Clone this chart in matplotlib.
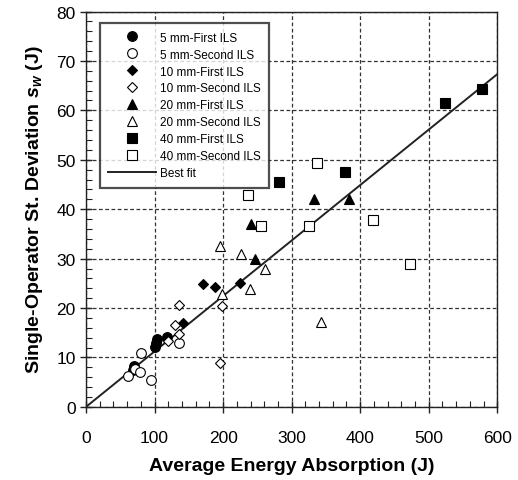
import numpy as np
import matplotlib
matplotlib.use('Agg')
import matplotlib.pyplot as plt
from matplotlib.ticker import MultipleLocator

plt.rcParams['font.family'] = ['Liberation Sans', 'DejaVu Sans']
plt.rcParams['mathtext.fontset'] = 'custom'
plt.rcParams['mathtext.it'] = 'Liberation Sans:italic:bold'
plt.rcParams['mathtext.rm'] = 'Liberation Sans:bold'

# data (energy J, s_w J)
x5_1 = [68, 70, 100, 102, 104, 118]
y5_1 = [7.5, 8.2, 12.2, 12.9, 13.8, 14.2]
x5_2 = [61, 72, 79, 80, 95, 135]
y5_2 = [6.3, 7.6, 7.0, 11.0, 5.5, 13.0]
x10_1 = [141, 170, 188, 225]
y10_1 = [17.0, 24.8, 24.2, 25.0]
x10_2 = [120, 130, 136, 136, 199, 196]
y10_2 = [13.3, 16.5, 14.7, 20.6, 20.4, 8.9]
x20_1 = [240, 247, 332, 383]
y20_1 = [37.0, 30.0, 42.0, 42.0]
x20_2 = [195, 226, 261, 239, 199, 343]
y20_2 = [32.5, 31.0, 28.0, 23.8, 22.9, 17.2]
x40_1 = [282, 378, 524, 578]
y40_1 = [45.6, 47.5, 61.5, 64.4]
x40_2 = [236, 255, 337, 325, 419, 473]
y40_2 = [42.8, 36.6, 49.3, 36.5, 37.9, 28.9]
fit_slope = 0.1122

fig = plt.figure(figsize=(5.18, 4.81), dpi=100)
ax = fig.add_axes([0.166, 0.152, 0.794, 0.822])

ms = 7
ax.plot(x5_1, y5_1, 'o', ms=ms, mfc='black', mec='black', mew=0.8, label='5 mm-First ILS', zorder=3)
ax.plot(x5_2, y5_2, 'o', ms=ms, mfc='white', mec='black', mew=0.8, label='5 mm-Second ILS', zorder=3)
ax.plot(x10_1, y10_1, 'D', ms=ms - 1.5, mfc='black', mec='black', mew=0.8, label='10 mm-First ILS', zorder=3)
ax.plot(x10_2, y10_2, 'D', ms=ms - 1.5, mfc='white', mec='black', mew=0.8, label='10 mm-Second ILS', zorder=3)
ax.plot(x20_1, y20_1, '^', ms=ms + 0.5, mfc='black', mec='black', mew=0.8, label='20 mm-First ILS', zorder=3)
ax.plot(x20_2, y20_2, '^', ms=ms + 0.5, mfc='white', mec='black', mew=0.8, label='20 mm-Second ILS', zorder=3)
ax.plot(x40_1, y40_1, 's', ms=ms, mfc='black', mec='black', mew=0.8, label='40 mm-First ILS', zorder=3)
ax.plot(x40_2, y40_2, 's', ms=ms, mfc='white', mec='black', mew=0.8, label='40 mm-Second ILS', zorder=3)

xf = np.array([0, 600])
ax.plot(xf, fit_slope * xf, '-', color='#222222', lw=1.4, label='Best fit', zorder=2)

ax.set_xlim(0, 600)
ax.set_ylim(0, 80)
ax.xaxis.set_major_locator(MultipleLocator(100))
ax.xaxis.set_minor_locator(MultipleLocator(20))
ax.yaxis.set_major_locator(MultipleLocator(10))
ax.yaxis.set_minor_locator(MultipleLocator(2))
ax.tick_params(which='major', direction='inout', length=9, width=1, labelsize=12.5, pad=12, color='#222222')
ax.tick_params(axis='y', which='major', pad=3)
ax.tick_params(which='minor', direction='in', length=4, width=0.8, color='#222222')
ax.grid(True, which='major', linestyle=(0, (3, 2)), color='#333333', lw=0.9)
for s in ax.spines.values():
    s.set_color('#222222')
    s.set_linewidth(1.0)

ax.set_xlabel('Average Energy Absorption (J)', fontsize=14, fontweight='bold', labelpad=9)
ax.set_ylabel(r'Single-Operator St. Deviation $s_w$ (J)', fontsize=14, fontweight='bold', labelpad=8)

leg = ax.legend(loc='upper left', bbox_to_anchor=(0.02, 0.985), fontsize=8.5, frameon=True,
                fancybox=False, edgecolor='#222222', handlelength=4.0, labelspacing=0.42,
                borderpad=0.7, handletextpad=0.4)
leg.get_frame().set_linewidth(1.6)

fig.savefig('out.png', dpi=100)
